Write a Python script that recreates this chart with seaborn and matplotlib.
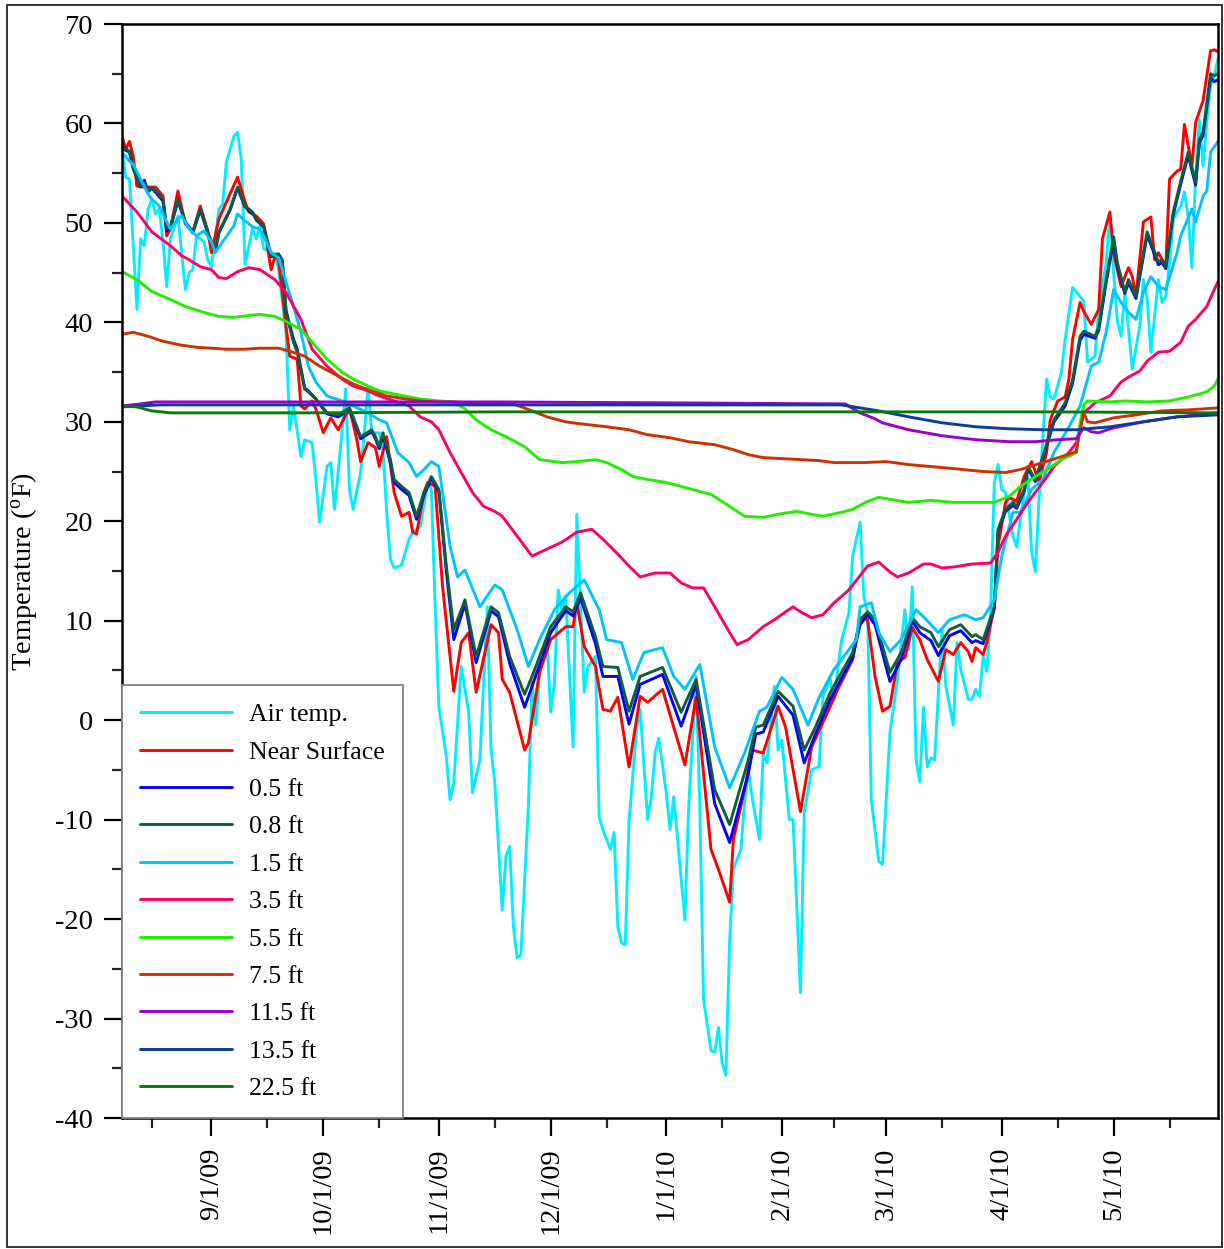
import pandas as pd
import matplotlib
matplotlib.use("Agg")
import matplotlib.pyplot as plt
import matplotlib.ticker as mticker
from matplotlib.patches import Rectangle
import seaborn as sns

# Record starts 8 Aug 2009; every series is given as (day offset, temperature in F)
START = pd.Timestamp("2009-08-08")
END = pd.Timestamp("2010-05-29")

air_days = [0, 1, 2, 4, 5, 6, 7, 8, 9, 10, 11, 12, 13, 15, 17, 18, 19, 20, 22, 23, 24, 26, 27, 28, 30, 31, 32, 33,
            35, 36, 37, 38, 40, 41, 42, 44, 45, 46, 48, 49, 51, 52, 53, 55, 56, 57, 59, 60, 61, 62, 64, 65, 66, 67,
            69, 70, 71, 72, 73, 75, 77, 78, 80, 82, 83, 84, 85, 87, 88, 89, 91, 93, 94, 96, 98, 99, 100, 102, 103,
            104, 105, 106, 107, 109, 110, 111, 112, 114, 115, 116, 117, 118, 119, 121, 122, 124, 125, 127, 128, 129,
            131, 132, 133, 134, 135, 136, 138, 139, 141, 142, 143, 144, 146, 147, 148, 151, 152, 154, 155, 156, 158,
            159, 160, 161, 162, 163, 164, 166, 167, 168, 169, 171, 172, 173, 175, 176, 177, 179, 180, 182, 183, 185,
            186, 187, 188, 190, 191, 193, 195, 196, 198, 199, 200, 201, 203, 204, 205, 206, 208, 210, 211, 212, 213,
            214, 215, 216, 217, 218, 219, 220, 221, 223, 224, 225, 227, 228, 229, 230, 231, 232, 233, 234, 235, 236,
            237, 239, 240, 241, 242, 243, 244, 245, 246, 247, 248, 249, 250, 252, 253, 255, 257, 258, 259, 261, 262,
            264, 265, 266, 267, 268, 269, 270, 271, 273, 274, 275, 276, 278, 279, 280, 281, 282, 284, 285, 286, 287,
            288, 289, 290, 291, 292, 293, 294]
air_temp = [57.4, 54.6, 54.4, 41.3, 48.4, 47.7, 51.4, 52.4, 50.9, 51.4, 48.1, 43.6, 48.4, 50.7, 43.3, 45.0, 45.3,
            48.7, 48.1, 46.3, 45.6, 51.4, 51.9, 56.1, 58.7, 59.1, 56.4, 45.8, 49.4, 48.4, 49.7, 47.4, 47.0, 46.9,
            45.3, 39.0, 29.2, 31.6, 26.5, 28.2, 27.9, 24.2, 19.9, 25.5, 25.9, 21.2, 28.9, 33.3, 23.2, 21.2, 24.9,
            28.9, 33.6, 28.9, 28.9, 27.2, 20.9, 16.2, 15.3, 15.6, 18.2, 18.9, 19.5, 23.9, 23.2, 11.4, 1.4, -3.7,
            -8.0, -6.3, 5.4, 0.8, -7.3, -4.0, 11.4, -3.0, -6.3, -19.1, -13.7, -12.7, -20.8, -23.9, -23.6, -8.7, 3.8,
            -0.5, 4.8, 8.1, 0.8, 3.8, 13.1, 11.0, 12.5, -2.7, 20.7, 2.8, 5.4, 6.4, -9.7, -11.0, -13.0, -11.3, -20.8,
            -22.4, -22.6, -10.3, -1.0, 1.1, -10.0, -7.7, -3.3, -1.8, -7.3, -11.0, -7.7, -20.1, -8.7, 4.4, -8.7,
            -28.1, -33.2, -33.4, -30.9, -34.5, -35.7, -22.1, -15.0, -13.0, -8.3, -5.0, -7.7, -12.0, -3.3, -4.3, 3.4,
            -3.0, -2.0, -10.0, -10.0, -27.4, -9.3, -5.0, -4.8, -4.7, 2.4, 4.1, 2.0, 8.0, 10.8, 16.5, 19.9, 12.4,
            10.8, -8.0, -14.2, -14.5, -8.0, -1.3, 4.1, 11.1, 7.1, 13.4, -4.0, -6.2, 1.3, -4.7, -3.8, -4.0, 2.8, 9.1,
            3.4, -0.5, 7.8, 5.1, 2.1, 2.1, 3.1, 2.4, 6.4, 4.9, 10.8, 23.9, 25.7, 23.2, 22.9, 18.5, 17.4, 20.2, 22.9,
            24.5, 16.9, 14.9, 22.2, 28.2, 34.3, 32.5, 32.3, 35.0, 38.3, 43.5, 42.6, 42.1, 36.0, 36.6, 41.3, 46.0,
            50.7, 45.0, 40.1, 38.6, 43.0, 39.3, 35.3, 39.6, 44.3, 42.3, 37.0, 44.3, 42.0, 42.6, 46.0, 50.4, 51.7,
            53.1, 50.7, 45.5, 54.7, 60.4, 55.7, 60.2, 63.8, 64.8, 66.5]

surface_days = [0, 1, 2, 3, 4, 6, 8, 9, 11, 12, 13, 15, 17, 19, 21, 23, 24, 26, 28, 31, 33, 34, 36, 38, 40, 41, 42,
                44, 45, 47, 48, 49, 51, 52, 54, 56, 58, 61, 63, 64, 66, 68, 69, 71, 73, 74, 75, 77, 78, 79, 81, 82,
                84, 86, 89, 91, 93, 95, 99, 101, 102, 104, 108, 109, 112, 115, 119, 121, 122, 124, 127, 129, 131,
                133, 136, 139, 141, 145, 151, 154, 158, 160, 163, 164, 167, 169, 172, 176, 178, 182, 185, 190, 192,
                196, 198, 200, 202, 204, 206, 208, 210, 212, 214, 216, 219, 221, 223, 225, 227, 228, 229, 231, 232,
                234, 235, 237, 238, 240, 242, 244, 246, 248, 249, 251, 253, 254, 255, 257, 258, 260, 262, 263, 265,
                266, 268, 270, 271, 272, 274, 276, 277, 278, 280, 281, 283, 284, 285, 287, 288, 290, 292, 293, 294]
surface_temp = [58.7, 57.4, 58.2, 56.7, 53.7, 53.6, 53.6, 53.6, 52.7, 48.7, 49.4, 53.2, 49.9, 49.1, 51.7, 49.2,
                47.0, 50.4, 52.1, 54.6, 52.1, 51.1, 50.7, 49.9, 45.3, 46.6, 46.3, 39.6, 36.6, 36.3, 31.6, 31.3,
                32.1, 31.3, 28.9, 30.4, 29.2, 31.4, 28.2, 26.0, 27.9, 27.4, 25.5, 28.5, 22.9, 21.7, 20.5, 20.9,
                18.9, 18.7, 22.9, 23.9, 23.5, 13.4, 2.9, 7.8, 8.8, 2.8, 9.6, 8.8, 4.1, 2.8, -3.0, -2.3, 4.8, 8.1,
                9.4, 9.4, 11.8, 7.4, 5.4, 1.1, 0.9, 2.3, -4.7, 2.4, 1.8, 3.1, -4.5, 2.3, -13.0, -15.0, -18.3, -12.0,
                -7.0, -3.0, -3.3, 1.4, -0.7, -9.2, -2.7, 1.4, 3.1, 6.1, 10.3, 10.1, 4.4, 0.9, 1.4, 5.8, 6.3, 9.3,
                8.1, 6.1, 3.9, 7.1, 6.6, 7.8, 6.9, 5.9, 7.3, 6.6, 7.8, 11.4, 17.5, 21.9, 22.4, 22.0, 24.5, 26.0,
                24.0, 26.9, 30.2, 32.1, 32.5, 34.3, 38.3, 42.0, 41.1, 39.8, 41.3, 48.4, 51.1, 47.0, 43.6, 45.5,
                44.6, 42.6, 50.1, 50.6, 46.3, 47.0, 45.6, 54.4, 55.2, 55.4, 59.9, 55.7, 60.1, 62.3, 67.3, 67.4, 67.2]

# 0.5 ft and 0.8 ft are read at the same days
shallow_days = [0, 2, 3, 5, 6, 7, 8, 11, 12, 13, 15, 17, 19, 21, 23, 25, 26, 29, 31, 33, 35, 36, 38, 40, 42, 43, 44,
                46, 47, 49, 50, 52, 55, 58, 61, 62, 64, 67, 68, 69, 70, 72, 73, 75, 76, 77, 79, 81, 83, 85, 87, 89,
                92, 95, 99, 101, 104, 108, 110, 115, 119, 121, 123, 127, 129, 133, 136, 139, 145, 150, 154, 159, 163,
                168, 170, 172, 176, 180, 183, 186, 190, 196, 198, 200, 202, 206, 209, 212, 214, 217, 219, 222, 225,
                228, 229, 231, 234, 235, 237, 239, 240, 242, 243, 245, 247, 250, 253, 255, 257, 258, 261, 262, 264,
                266, 267, 269, 270, 272, 274, 275, 278, 279, 280, 282, 284, 286, 288, 289, 290, 292, 293, 294]
depth05_temp = [57.5, 57.1, 55.6, 53.6, 54.3, 53.1, 53.5, 52.2, 49.2, 49.5, 52.2, 50.0, 49.0, 51.3, 49.0, 47.1,
                49.0, 51.3, 53.5, 51.6, 51.0, 50.3, 49.6, 46.6, 46.8, 46.2, 41.2, 38.3, 37.3, 33.4, 33.1, 32.3,
                30.8, 30.5, 31.2, 30.3, 28.3, 29.0, 28.3, 27.3, 28.6, 25.9, 23.9, 23.2, 22.9, 22.6, 20.2, 22.6,
                24.3, 23.0, 15.0, 8.1, 11.7, 5.8, 11.0, 10.4, 5.7, 1.3, 3.4, 8.8, 11.0, 10.5, 12.3, 7.7, 4.4, 4.4,
                -0.4, 3.6, 4.6, -0.6, 3.6, -8.4, -12.3, -5.4, -1.4, -1.2, 2.4, 0.5, -4.3, -1.4, 2.1, 6.3, 9.6, 10.6,
                9.6, 3.9, 6.1, 10.0, 8.8, 8.0, 6.5, 8.5, 9.0, 7.8, 8.0, 7.7, 11.2, 19.0, 21.0, 21.6, 21.3, 23.0,
                25.3, 24.0, 26.3, 30.0, 31.6, 33.9, 38.2, 38.8, 38.4, 39.2, 44.0, 48.3, 45.7, 42.9, 44.0, 42.4,
                46.7, 48.8, 45.8, 46.0, 45.4, 50.8, 53.9, 56.8, 53.8, 58.1, 58.8, 64.6, 64.2, 64.4]
depth08_temp = [57.7, 57.2, 55.4, 53.7, 54.1, 53.2, 53.6, 52.4, 49.4, 49.6, 52.4, 50.1, 49.1, 51.4, 49.1, 47.2,
                49.1, 51.4, 53.6, 51.7, 51.1, 50.4, 49.7, 46.7, 46.9, 46.3, 41.0, 38.0, 37.0, 33.3, 33.0, 32.3,
                30.9, 30.7, 31.4, 30.5, 28.5, 29.2, 28.5, 27.5, 28.9, 26.2, 24.2, 23.5, 23.2, 22.9, 20.5, 22.9,
                24.5, 23.2, 15.5, 9.1, 12.1, 6.4, 11.4, 10.8, 6.4, 2.6, 4.4, 9.4, 11.4, 10.9, 12.8, 8.4, 5.4, 5.3,
                0.9, 4.4, 5.3, 0.8, 4.1, -7.0, -10.5, -4.0, -0.7, -0.5, 2.9, 1.4, -3.0, -0.7, 2.8, 6.8, 10.1, 10.9,
                10.1, 4.8, 6.8, 10.3, 9.4, 8.8, 7.4, 9.1, 9.6, 8.4, 8.6, 8.1, 11.4, 19.2, 21.2, 21.9, 21.5, 23.2,
                25.5, 24.2, 26.5, 30.2, 31.9, 34.2, 38.6, 39.1, 38.6, 39.5, 44.3, 48.6, 46.0, 43.1, 44.3, 42.6,
                47.0, 49.1, 46.1, 46.3, 45.6, 51.1, 54.2, 57.1, 54.1, 58.4, 59.1, 65.0, 64.8, 65.0]

depth15_days = [0, 2, 3, 5, 7, 8, 10, 12, 13, 15, 16, 18, 20, 22, 24, 25, 27, 30, 31, 33, 35, 37, 38, 40, 42, 43,
                46, 48, 50, 52, 55, 59, 62, 66, 69, 71, 74, 77, 79, 81, 83, 85, 88, 90, 92, 96, 100, 102, 106, 109,
                112, 116, 120, 124, 128, 130, 134, 137, 140, 145, 148, 151, 155, 159, 163, 167, 171, 173, 177, 180,
                184, 187, 191, 197, 198, 201, 203, 206, 209, 213, 215, 219, 222, 226, 229, 231, 234, 236, 239, 241,
                244, 247, 250, 254, 257, 260, 262, 264, 266, 268, 270, 272, 274, 276, 278, 280, 283, 284, 287, 288,
                290, 291, 292, 294]
depth15_temp = [57.1, 56.2, 55.9, 54.4, 52.9, 52.4, 51.7, 50.1, 49.4, 50.4, 50.7, 49.4, 48.7, 49.2, 48.1, 47.0,
                48.1, 49.7, 50.9, 50.2, 49.6, 49.4, 48.7, 47.0, 46.5, 45.3, 41.6, 39.0, 35.6, 34.0, 32.6, 32.1,
                31.6, 30.9, 30.2, 29.9, 26.9, 25.9, 24.5, 25.2, 26.0, 25.5, 17.5, 14.4, 15.1, 11.4, 13.6, 13.1,
                9.1, 5.4, 8.1, 11.1, 12.8, 14.1, 11.1, 8.1, 7.8, 4.1, 6.8, 7.3, 4.4, 3.1, 5.6, -2.7, -6.8, -3.3,
                0.9, 1.3, 4.3, 3.1, -0.5, 2.3, 5.1, 8.1, 11.4, 11.8, 8.8, 6.9, 8.1, 11.1, 10.4, 8.8, 10.1, 10.6,
                10.1, 10.3, 12.1, 16.5, 20.9, 20.9, 23.2, 24.2, 26.9, 29.5, 31.6, 35.6, 36.0, 39.0, 43.3, 42.0,
                41.0, 40.3, 43.0, 44.6, 43.6, 43.3, 47.0, 48.7, 51.4, 50.1, 52.7, 53.2, 57.1, 58.2]

depth35_days = [0, 4, 8, 13, 16, 18, 21, 24, 26, 28, 31, 34, 37, 41, 44, 48, 51, 55, 59, 62, 66, 69, 73, 77, 80, 83,
                85, 88, 91, 94, 97, 100, 102, 106, 110, 114, 118, 122, 126, 129, 133, 136, 139, 143, 147, 150, 153,
                156, 159, 163, 165, 168, 172, 175, 180, 182, 185, 188, 191, 195, 200, 203, 206, 208, 211, 215, 217,
                220, 223, 228, 233, 235, 237, 240, 243, 247, 250, 254, 256, 258, 261, 265, 268, 270, 273, 275, 278,
                281, 284, 286, 288, 291, 293, 294]
depth35_temp = [52.7, 51.1, 49.1, 47.7, 46.7, 46.3, 45.6, 45.3, 44.5, 44.4, 45.1, 45.5, 45.3, 44.3, 43.0, 40.3,
                37.3, 35.6, 34.3, 33.6, 33.1, 32.6, 32.1, 31.6, 30.5, 30.0, 29.2, 26.9, 24.9, 22.9, 21.5, 21.0,
                20.5, 18.5, 16.5, 17.2, 17.9, 18.9, 19.2, 18.2, 16.7, 15.5, 14.4, 14.8, 14.8, 13.8, 13.3, 13.3,
                11.4, 8.8, 7.6, 8.1, 9.4, 10.1, 11.4, 10.9, 10.3, 10.6, 11.8, 13.1, 15.5, 15.9, 14.9, 14.4, 14.8,
                15.7, 15.7, 15.3, 15.4, 15.7, 15.8, 16.9, 18.5, 20.2, 21.9, 23.9, 25.5, 26.9, 27.9, 30.9, 31.9,
                32.6, 34.0, 34.5, 35.1, 36.1, 37.0, 37.1, 38.0, 39.6, 40.3, 41.6, 43.3, 44.1]

depth55_days = [0, 4, 8, 13, 17, 22, 26, 30, 34, 37, 41, 44, 48, 51, 55, 59, 62, 66, 69, 73, 77, 80, 85, 89, 92, 95,
                99, 103, 108, 112, 118, 122, 127, 130, 134, 137, 141, 146, 150, 155, 158, 163, 167, 172, 176, 181,
                185, 188, 193, 196, 200, 203, 211, 217, 223, 229, 234, 238, 241, 245, 249, 252, 256, 257, 258, 259,
                265, 269, 275, 281, 286, 291, 293, 294]
depth55_temp = [45.1, 44.3, 43.1, 42.3, 41.6, 41.0, 40.6, 40.5, 40.7, 40.8, 40.6, 40.1, 39.3, 38.0, 36.3, 35.0,
                34.3, 33.6, 33.1, 32.8, 32.5, 32.3, 32.1, 32.0, 31.3, 30.2, 29.2, 28.5, 27.5, 26.2, 25.9, 26.0,
                26.2, 25.9, 25.2, 24.5, 24.2, 23.9, 23.5, 23.0, 22.7, 21.5, 20.5, 20.4, 20.7, 21.0, 20.7, 20.5,
                20.9, 21.2, 22.0, 22.4, 21.9, 22.1, 21.9, 21.9, 21.9, 22.5, 23.5, 24.5, 25.4, 26.2, 26.9, 29.9,
                31.7, 32.1, 32.0, 32.1, 32.0, 32.1, 32.5, 33.0, 33.6, 34.3]

depth75_days = [0, 3, 7, 11, 16, 20, 24, 28, 33, 37, 42, 45, 49, 53, 58, 62, 67, 71, 76, 80, 85, 89, 94, 99, 105,
                110, 114, 119, 123, 130, 136, 141, 147, 152, 159, 164, 168, 172, 177, 182, 187, 191, 196, 199, 205,
                211, 217, 223, 231, 237, 241, 247, 252, 256, 257, 258, 259, 261, 266, 272, 279, 286, 294]
depth75_temp = [38.8, 39.0, 38.6, 38.1, 37.7, 37.5, 37.4, 37.3, 37.3, 37.4, 37.4, 37.1, 36.6, 35.6, 34.6, 33.8,
                33.1, 32.6, 32.3, 32.1, 32.0, 32.0, 31.9, 31.9, 31.8, 31.1, 30.5, 30.0, 29.8, 29.5, 29.2, 28.7,
                28.4, 28.0, 27.7, 27.2, 26.7, 26.4, 26.3, 26.2, 26.1, 25.9, 25.9, 25.9, 26.0, 25.7, 25.5, 25.3,
                25.0, 24.9, 25.2, 25.9, 26.5, 27.0, 29.2, 30.9, 30.0, 29.9, 30.4, 30.7, 31.1, 31.2, 31.4]

depth115_days = [0, 5, 9, 50, 100, 150, 194, 198, 202, 204, 211, 220, 229, 238, 245, 251, 256, 258, 260, 262, 266,
                 274, 283, 294]
depth115_temp = [31.6, 31.8, 32.0, 32.0, 32.0, 31.9, 31.8, 30.9, 30.3, 29.9, 29.2, 28.6, 28.2, 28.0, 28.0, 28.2,
                 28.3, 29.4, 29.0, 28.9, 29.4, 30.0, 30.5, 30.9]

depth135_days = [0, 5, 10, 100, 193, 203, 211, 220, 229, 238, 247, 256, 265, 274, 283, 294]
depth135_temp = [31.5, 31.6, 31.7, 31.7, 31.7, 31.1, 30.5, 29.9, 29.5, 29.3, 29.2, 29.2, 29.5, 30.0, 30.5, 30.7]

depth225_days = [0, 4, 8, 13, 50, 100, 150, 200, 250, 294]
depth225_temp = [31.6, 31.5, 31.1, 30.9, 30.9, 31.0, 31.0, 31.0, 31.0, 30.9]

series_names = ["Air temp.", "Near Surface", "0.5 ft", "0.8 ft", "1.5 ft", "3.5 ft",
                "5.5 ft", "7.5 ft", "11.5 ft", "13.5 ft", "22.5 ft"]
series_colors = ["#00EEFF", "#FF0000", "#0000FF", "#0E5E3C", "#00C4FF", "#FF0066",
                 "#22EE00", "#CC3300", "#9900CC", "#0B3C99", "#0A7A0A"]
series_days = [air_days, surface_days, shallow_days, shallow_days, depth15_days, depth35_days,
               depth55_days, depth75_days, depth115_days, depth135_days, depth225_days]
series_temps = [air_temp, surface_temp, depth05_temp, depth08_temp, depth15_temp, depth35_temp,
                depth55_temp, depth75_temp, depth115_temp, depth135_temp, depth225_temp]

month_ticks = ["2009-09-01", "2009-10-01", "2009-11-01", "2009-12-01", "2010-01-01",
               "2010-02-01", "2010-03-01", "2010-04-01", "2010-05-01"]
month_labels = ["9/1/09", "10/1/09", "11/1/09", "12/1/09", "1/1/10",
                "2/1/10", "3/1/10", "4/1/10", "5/1/10"]
mid_month_ticks = ["2009-08-16", "2009-09-16", "2009-10-16", "2009-11-16", "2009-12-16",
                   "2010-01-16", "2010-02-15", "2010-03-16", "2010-04-16", "2010-05-16"]

frames = []
for name, days, temps in zip(series_names, series_days, series_temps):
    frames.append(pd.DataFrame({
        "date": START + pd.to_timedelta(days, unit="D"),
        "temp": temps,
        "series": name,
    }))
df = pd.concat(frames, ignore_index=True)

sns.set_theme(style="ticks")
plt.rcParams["font.family"] = ["Liberation Serif", "DejaVu Serif"]
plt.rcParams["mathtext.fontset"] = "custom"
plt.rcParams["mathtext.rm"] = "Liberation Serif"
plt.rcParams["mathtext.it"] = "Liberation Serif:italic"
plt.rcParams["axes.unicode_minus"] = False
plt.rcParams["text.color"] = "black"

W, H = 1224, 1249
fig = plt.figure(figsize=(W / 100, H / 100), dpi=100)
ax = fig.add_axes([122 / W, 1 - 1118 / H, (1218 - 122) / W, (1118 - 24) / H])

sns.lineplot(data=df, x="date", y="temp", hue="series", hue_order=series_names,
             palette=dict(zip(series_names, series_colors)), estimator=None,
             linewidth=2.1, ax=ax)

ax.set_xlim(START, END)
ax.set_ylim(-40, 70)
ax.yaxis.set_major_locator(mticker.MultipleLocator(10))
ax.yaxis.set_minor_locator(mticker.MultipleLocator(5))
ax.set_xticks(pd.to_datetime(month_ticks))
ax.set_xticklabels(month_labels)
ax.set_xticks(pd.to_datetime(mid_month_ticks), minor=True)

ax.tick_params(axis="both", which="major", direction="out", length=13, width=1.6,
               pad=8, labelsize=20.5, colors="black")
ax.tick_params(axis="both", which="minor", direction="out", length=7, width=1.6)
ax.tick_params(axis="x", which="major", labelrotation=90)
for lbl in ax.get_xticklabels():
    lbl.set_verticalalignment("top")

for spine in ax.spines.values():
    spine.set_visible(True)
    spine.set_color("black")
    spine.set_linewidth(1.8)

ax.set_xlabel("")
ax.set_ylabel(r"Temperature ($\mathrm{^{o}}$F)", fontsize=20.5, color="black")
ax.yaxis.set_label_coords(-0.076, 0.5)

handles, labels = ax.get_legend_handles_labels()
leg = ax.legend(handles, labels, loc="lower left", borderaxespad=0, frameon=True,
                fancybox=False, framealpha=1, edgecolor="#808080", fontsize=18.5,
                handlelength=3.6, handletextpad=0.65, labelspacing=0.56, borderpad=0.7,
                labelcolor="black")
leg.get_frame().set_linewidth(1.3)
for line in leg.get_lines():
    line.set_linewidth(2.1)

# thin frame around the whole figure
fig.patches.append(Rectangle((7 / W, 1 - 1247 / H), (1222 - 7) / W, (1247 - 5) / H,
                             transform=fig.transFigure, fill=False,
                             edgecolor="#333333", linewidth=1.4))

fig.savefig("out.png", dpi=100)
